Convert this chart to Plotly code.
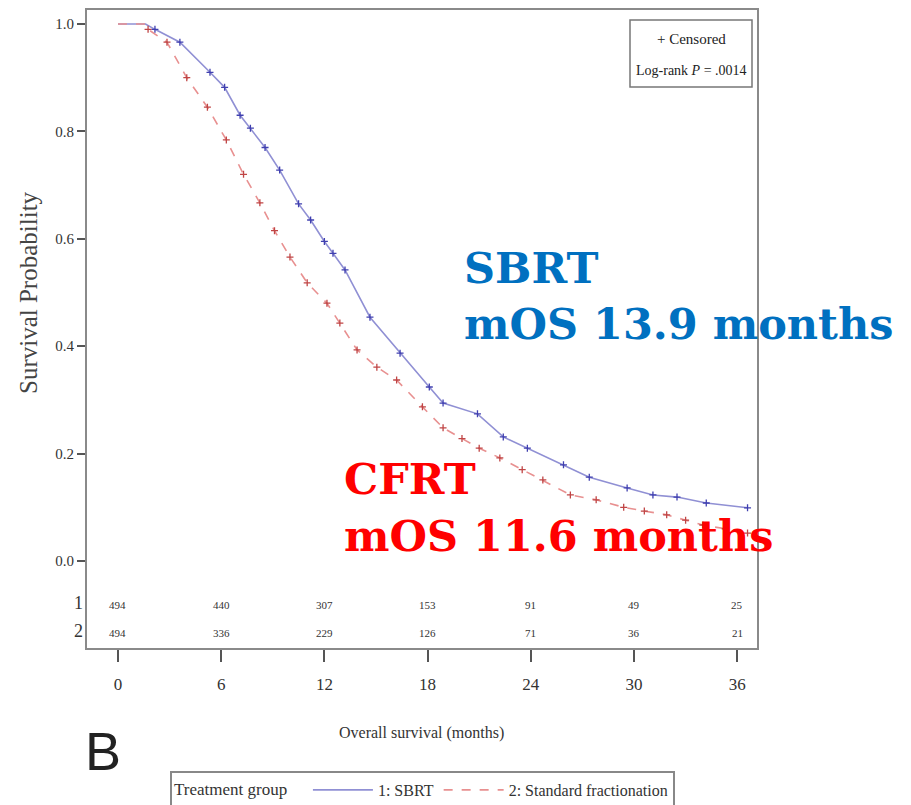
import plotly.graph_objects as go

# ---- data ----
sbrt_t = [0, 1.6, 2.15, 3.6, 5.35, 6.2, 7.1, 7.7, 8.55, 9.4, 10.5, 11.2, 12.0, 12.5, 13.2,
          14.65, 16.4, 18.1, 18.9, 20.9, 22.4, 23.8, 25.9, 27.4, 29.6, 31.1, 32.5, 34.2, 36.6]
sbrt_s = [1.0, 1.0, 0.99, 0.966, 0.91, 0.882, 0.83, 0.806, 0.77, 0.728, 0.665, 0.635, 0.595, 0.573, 0.542,
          0.454, 0.387, 0.324, 0.294, 0.274, 0.231, 0.21, 0.179, 0.156, 0.136, 0.123, 0.119, 0.108, 0.099]

cfrt_t = [0, 1.6, 1.75, 2.85, 4.0, 5.2, 6.3, 7.3, 8.25, 9.1, 10.0, 11.0, 12.15, 12.9, 13.9,
          15.05, 16.2, 17.7, 18.9, 20.0, 21.0, 22.2, 23.5, 24.7, 26.3, 27.8, 29.4, 30.6,
          31.9, 33.0, 34.0, 35.3, 36.6]
cfrt_s = [1.0, 1.0, 0.99, 0.966, 0.90, 0.845, 0.784, 0.72, 0.667, 0.615, 0.566, 0.518, 0.48, 0.443, 0.393,
          0.361, 0.337, 0.287, 0.248, 0.228, 0.21, 0.192, 0.17, 0.151, 0.123, 0.114, 0.10, 0.093,
          0.086, 0.076, 0.067, 0.06, 0.052]

risk_times = [0, 6, 12, 18, 24, 30, 36]
risk_sbrt = [494, 440, 307, 153, 91, 49, 25]
risk_cfrt = [494, 336, 229, 126, 71, 36, 21]

x_ticks = [0, 6, 12, 18, 24, 30, 36]
y_ticks = [0.0, 0.2, 0.4, 0.6, 0.8, 1.0]
y_ticklabels = ["0.0", "0.2", "0.4", "0.6", "0.8", "1.0"]

# ---- styles ----
SERIF = "Liberation Serif, Times New Roman, serif"
BIG = "DejaVu Serif, serif"
blue_line = "#9090d4"
blue_mark = "#4040b0"
red_line = "#e89090"
red_mark = "#c04545"
axis_col = "#8a8a8a"

fig = go.Figure()

fig.add_trace(go.Scatter(x=sbrt_t, y=sbrt_s, mode="lines", name="1: SBRT",
                         line=dict(color=blue_line, width=1.6)))
fig.add_trace(go.Scatter(x=cfrt_t, y=cfrt_s, mode="lines", name="2: Standard fractionation",
                         line=dict(color=red_line, width=1.6, dash="dash")))
fig.add_trace(go.Scatter(x=sbrt_t[2:], y=sbrt_s[2:], mode="markers", showlegend=False,
                         marker=dict(symbol="cross-thin", size=5, line=dict(color=blue_mark, width=1.3))))
fig.add_trace(go.Scatter(x=cfrt_t[2:], y=cfrt_s[2:], mode="markers", showlegend=False,
                         marker=dict(symbol="cross-thin", size=5, line=dict(color=red_mark, width=1.3))))


def pap_x(px):
    return (px - 87) / 670


def pap_y(py):
    return (648 - py) / 638


annotations = []
# at-risk table
for t, n1, n2 in zip(risk_times, risk_sbrt, risk_cfrt):
    annotations.append(dict(x=t, y=-0.082, xref="x", yref="y", text=str(n1), showarrow=False,
                            xanchor="center", yanchor="middle",
                            font=dict(family=SERIF, size=11, color="#333")))
    annotations.append(dict(x=t, y=-0.134, xref="x", yref="y", text=str(n2), showarrow=False,
                            xanchor="center", yanchor="middle",
                            font=dict(family=SERIF, size=11, color="#333")))
for lab, py in (("1", 603), ("2", 631)):
    annotations.append(dict(x=pap_x(78), y=pap_y(py), xref="paper", yref="paper", text=lab,
                            xanchor="center", yanchor="middle", showarrow=False,
                            font=dict(family=SERIF, size=18, color="#333")))

# axis titles
annotations.append(dict(x=pap_x(421), y=pap_y(733), xref="paper", yref="paper",
                        text="Overall survival (months)", showarrow=False,
                        xanchor="center", yanchor="middle",
                        font=dict(family=SERIF, size=16, color="#333")))
annotations.append(dict(x=pap_x(28), y=pap_y(293), xref="paper", yref="paper",
                        text="Survival Probability", textangle=-90, showarrow=False,
                        xanchor="center", yanchor="middle",
                        font=dict(family=SERIF, size=25, color="#444")))
# panel letter
annotations.append(dict(x=pap_x(103), y=pap_y(751), xref="paper", yref="paper",
                        text="B", showarrow=False, xanchor="center", yanchor="middle",
                        font=dict(family="Liberation Sans Narrow, Liberation Sans, sans-serif",
                                  size=54, color="#222")))

# censored / log-rank box
annotations.append(dict(x=pap_x(691), y=pap_y(39), xref="paper", yref="paper",
                        text="+ Censored", showarrow=False, xanchor="center", yanchor="middle",
                        font=dict(family=SERIF, size=15, color="#222")))
annotations.append(dict(x=pap_x(691), y=pap_y(70), xref="paper", yref="paper",
                        text="Log-rank <i>P</i> = .0014", showarrow=False,
                        xanchor="center", yanchor="middle",
                        font=dict(family=SERIF, size=14, color="#222")))

# big labels (one annotation per line)
big_lines = [("SBRT", 20.0, 0.596, "#0070C0"),
             ("mOS 13.9 months", 20.0, 0.492, "#0070C0"),
             ("CFRT", 13.0, 0.203, "#FF0000"),
             ("mOS 11.6 months", 13.0, 0.097, "#FF0000")]
for txt, bx, by, col in big_lines:
    annotations.append(dict(x=bx, y=by, xref="x", yref="y", xanchor="left", yanchor="top",
                            align="left", text="<b>" + txt + "</b>", showarrow=False,
                            font=dict(family=BIG, size=43, color=col)))

shapes = [dict(type="rect", xref="paper", yref="paper",
               x0=pap_x(630), x1=pap_x(752), y0=pap_y(87), y1=pap_y(20),
               line=dict(color="#777", width=1.5))]

fig.update_layout(
    width=911, height=805,
    margin=dict(l=87, r=154, t=10, b=157, autoexpand=False),
    paper_bgcolor="white", plot_bgcolor="white",
    showlegend=True,
    legend=dict(orientation="h", x=pap_x(170), y=pap_y(771),
                xanchor="left", yanchor="top",
                title=dict(text="Treatment group   ", font=dict(family=SERIF, size=17, color="#333")),
                font=dict(family=SERIF, size=16, color="#333"),
                bordercolor="#888", borderwidth=2, bgcolor="white",
                itemwidth=60),
    annotations=annotations,
    shapes=shapes,
)

fig.update_xaxes(range=[-1.8, 37.15], tickvals=x_ticks, ticks="outside", ticklen=12, tickwidth=1.5,
                 tickcolor="#555", showline=True, linecolor=axis_col, linewidth=2, mirror=True,
                 showgrid=False, zeroline=False, ticklabelstandoff=8,
                 tickfont=dict(family=SERIF, size=17, color="#333"))
fig.update_yaxes(range=[-0.162, 1.026], tickvals=y_ticks, ticktext=y_ticklabels, ticks="outside",
                 ticklen=8, tickwidth=1.5, tickcolor="#555", showline=True, linecolor=axis_col,
                 linewidth=2, mirror=True, showgrid=False, zeroline=False,
                 tickfont=dict(family=SERIF, size=15, color="#333"))

fig.write_html("out.html")
